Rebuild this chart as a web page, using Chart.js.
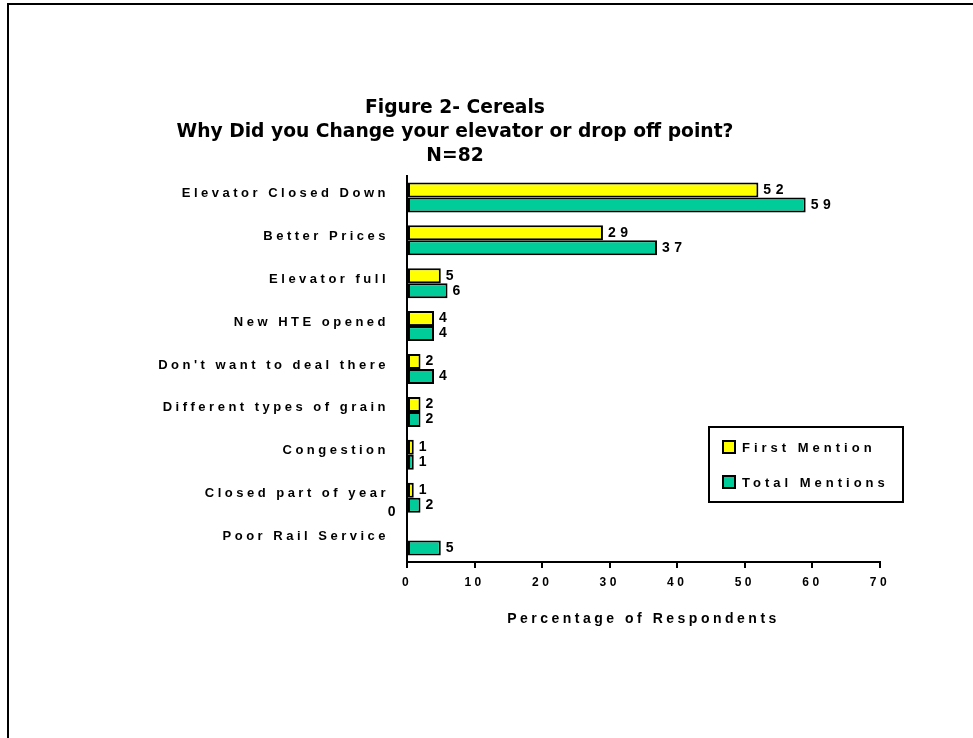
<!DOCTYPE html>
<html>
<head>
<meta charset="utf-8">
<script src="https://cdn.jsdelivr.net/npm/chart.js@4/dist/chart.umd.min.js"></script>
<style>
  html, body { margin: 0; padding: 0; background: #fff; }
  #chart { display: block; }
</style>
</head>
<body>
<canvas id="chart" width="973" height="738"></canvas>
<script>
// data
const categories = [
    "Elevator Closed Down",
    "Better Prices",
    "Elevator full",
    "New HTE opened",
    "Don't want to deal there",
    "Different types of grain",
    "Congestion",
    "Closed part of year",
    "Poor Rail Service"
];
const firstMention = [52, 29, 5, 4, 2, 2, 1, 1, 0];
const totalMentions = [59, 37, 6, 4, 4, 2, 1, 2, 5];
const seriesNames = ["First Mention", "Total Mentions"];
const titleLines = ["Figure 2- Cereals", "Why Did you Change your elevator or drop off point?", "N=82"];
const xTitle = "Percentage of Respondents";

const FONT = "'Liberation Sans', Arial, sans-serif";

// spaced-out lettering like the original
const spacing = {
    id: "spacing",
    beforeLayout(chart) { chart.ctx.letterSpacing = "3.5px"; },
    beforeDraw(chart) { chart.ctx.letterSpacing = "3.5px"; }
};

// frame line at top and left
const frame = {
    id: "frame",
    beforeDraw(chart) {
        const ctx = chart.ctx;
        ctx.save();
        ctx.fillStyle = "#000";
        ctx.fillRect(7, 3, 2, chart.height - 3);
        ctx.fillRect(7, 3, chart.width - 7, 2);
        ctx.restore();
    }
};

// value labels at bar ends
const valueLabels = {
    id: "valueLabels",
    afterDatasetsDraw(chart) {
        const ctx = chart.ctx;
        ctx.save();
        ctx.letterSpacing = "4.5px";
        ctx.font = "bold 14px " + FONT;
        ctx.fillStyle = "#000";
        ctx.textBaseline = "middle";
        chart.data.datasets.forEach((ds, i) => {
            chart.getDatasetMeta(i).data.forEach((bar, j) => {
                const v = ds.data[j];
                if (v === 0) {
                    ctx.textAlign = "right";
                    ctx.fillText(String(v), bar.base - 7, bar.y - 21);
                } else {
                    ctx.textAlign = "left";
                    ctx.fillText(String(v), bar.x + 5, bar.y);
                }
            });
        });
        ctx.restore();
    }
};

// boxed legend inside the plot
const boxLegend = {
    id: "boxLegend",
    afterDraw(chart) {
        const ctx = chart.ctx;
        const x = 709, y = 427, w = 194, h = 75;
        ctx.save();
        ctx.strokeStyle = "#000";
        ctx.lineWidth = 2;
        ctx.strokeRect(x, y, w, h);
        ctx.letterSpacing = "4px";
        ctx.font = "bold 13px " + FONT;
        ctx.textAlign = "left";
        ctx.textBaseline = "middle";
        chart.data.datasets.forEach((ds, i) => {
            const cy = y + 20 + i * 35;
            ctx.fillStyle = ds.backgroundColor;
            ctx.fillRect(x + 14, cy - 6, 12, 12);
            ctx.lineWidth = 2;
            ctx.strokeRect(x + 14, cy - 6, 12, 12);
            ctx.fillStyle = "#000";
            ctx.fillText(ds.label, x + 33, cy + 1);
        });
        ctx.restore();
    }
};

// three line title
const titleBlock = {
    id: "titleBlock",
    afterDraw(chart) {
        const ctx = chart.ctx;
        ctx.save();
        ctx.letterSpacing = "0px";
        ctx.font = "bold 18.7px 'DejaVu Sans', sans-serif";
        ctx.fillStyle = "#000";
        ctx.textAlign = "center";
        ctx.textBaseline = "middle";
        titleLines.forEach((t, i) => ctx.fillText(t, 455, 108 + i * 24));
        ctx.restore();
    }
};

const chart = new Chart(document.getElementById("chart"), {
    type: "bar",
    data: {
        labels: categories,
        datasets: [
            {
                label: seriesNames[0],
                data: firstMention,
                backgroundColor: "#ffff00",
                borderColor: "#000",
                borderWidth: 2,
                borderSkipped: false
            },
            {
                label: seriesNames[1],
                data: totalMentions,
                backgroundColor: "#00cc99",
                borderColor: "#000",
                borderWidth: 2,
                borderSkipped: false
            }
        ]
    },
    options: {
        indexAxis: "y",
        responsive: false,
        animation: false,
        categoryPercentage: 0.7,
        barPercentage: 1.0,
        layout: { padding: { top: 176, right: 93, bottom: 106, left: 10 } },
        plugins: {
            legend: { display: false },
            tooltip: { enabled: false },
            title: { display: false }
        },
        scales: {
            x: {
                min: 0,
                max: 70,
                ticks: {
                    stepSize: 10,
                    color: "#000",
                    padding: 7,
                    font: { family: FONT, size: 12, weight: "bold" }
                },
                grid: {
                    drawOnChartArea: false,
                    drawTicks: true,
                    tickLength: 6,
                    color: "#000",
                    lineWidth: 2
                },
                border: { display: true, color: "#000", width: 2 },
                title: {
                    display: true,
                    text: xTitle,
                    color: "#000",
                    padding: { top: 11 },
                    font: { family: FONT, size: 14, weight: "bold" }
                },
                afterFit(scale) { scale.height = 70; }
            },
            y: {
                ticks: {
                    color: "#000",
                    padding: 18,
                    labelOffset: -4,
                    font: { family: FONT, size: 13, weight: "bold" }
                },
                grid: { display: false, drawTicks: false },
                border: { display: true, color: "#000", width: 2 },
                afterFit(scale) { scale.width = 397; }
            }
        }
    },
    plugins: [spacing, frame, valueLabels, boxLegend, titleBlock]
});
</script>
</body>
</html>
